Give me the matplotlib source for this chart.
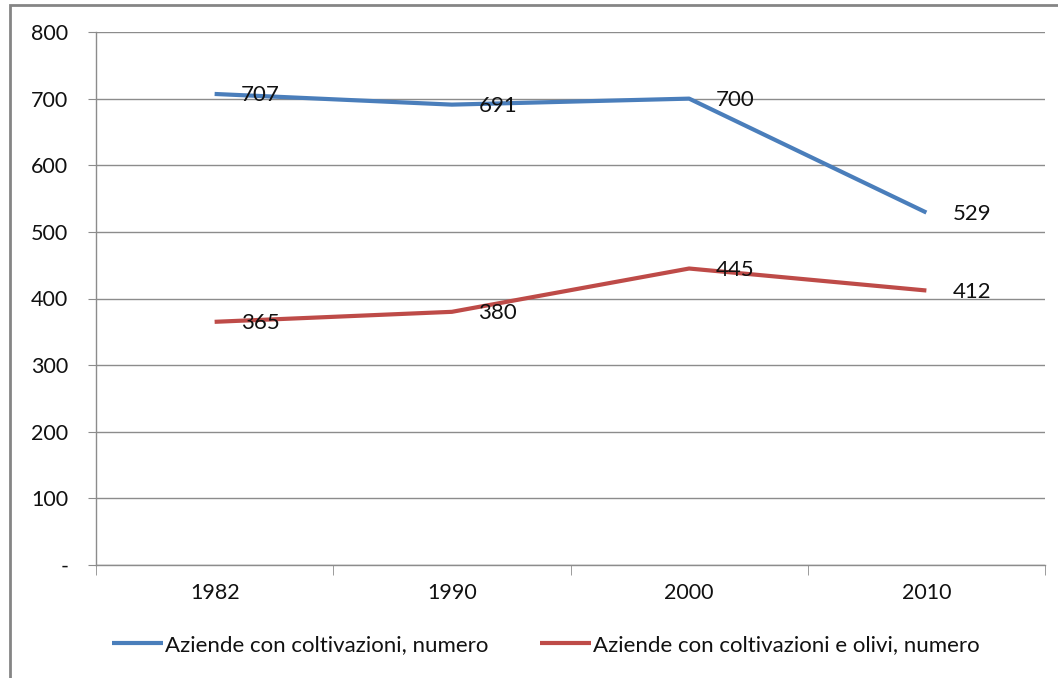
import matplotlib.pyplot as plt
from matplotlib.patches import Rectangle

# data
years = ['1982', '1990', '2000', '2010']
aziende = [707, 691, 700, 529]
aziende_olivi = [365, 380, 445, 412]
y_ticks = [0, 100, 200, 300, 400, 500, 600, 700, 800]
y_labels = ['-', '100', '200', '300', '400', '500', '600', '700', '800']

plt.rcParams['font.family'] = ['Lato', 'DejaVu Sans']

blue = '#4A7EBB'
red = '#BE4B48'
grid_col = '#8C8C8C'
txt = '#111111'
fs = 16

fig = plt.figure(figsize=(10.58, 6.78), dpi=100)
ax = fig.add_axes([96/1058, 113/678, 949/1058, 533/678])

x = range(len(years))
ax.plot(x, aziende, color=blue, lw=3, label='Aziende con coltivazioni, numero',
        solid_capstyle='butt')
ax.plot(x, aziende_olivi, color=red, lw=3, label='Aziende con coltivazioni e olivi, numero',
        solid_capstyle='butt')

for xi, v in zip(x, aziende):
    ax.annotate(str(v), (xi, v), xytext=(19, -1), textcoords='offset points',
                ha='left', va='center', fontsize=fs, color=txt)
for xi, v in zip(x, aziende_olivi):
    ax.annotate(str(v), (xi, v), xytext=(19, -1), textcoords='offset points',
                ha='left', va='center', fontsize=fs, color=txt)

ax.set_xlim(-0.5, 3.5)
ax.set_ylim(0, 800)
ax.set_yticks(y_ticks)
ax.set_yticklabels(y_labels)
ax.set_xticks([i for i in x])
ax.set_xticklabels(years)
ax.set_xticks([-0.5, 0.5, 1.5, 2.5, 3.5], minor=True)

ax.grid(axis='y', color=grid_col, lw=1)
ax.set_axisbelow(True)
for s in ['top', 'right']:
    ax.spines[s].set_visible(False)
for s in ['left', 'bottom']:
    ax.spines[s].set_color(grid_col)
    ax.spines[s].set_linewidth(1)

ax.tick_params(axis='y', length=6, color=grid_col, labelsize=fs - 0.5, pad=14, labelcolor=txt)
ax.tick_params(axis='x', which='major', length=0, labelsize=fs - 0.5, pad=13, labelcolor=txt)
ax.tick_params(axis='x', which='minor', length=7, color=grid_col)

fig.legend(loc='center', bbox_to_anchor=(546/1058, 33/678), ncol=2, frameon=False,
           fontsize=fs, handlelength=2.3, handletextpad=0.1, columnspacing=2.3,
           labelcolor=txt)

# outer chart border (only top and left visible in the crop)
fig.patches.append(Rectangle((10/1058, -0.1), 1.2, 0.1 + 673/678, transform=fig.transFigure,
                             fill=False, edgecolor='#858585', lw=2))

fig.savefig('out.png', dpi=100)
